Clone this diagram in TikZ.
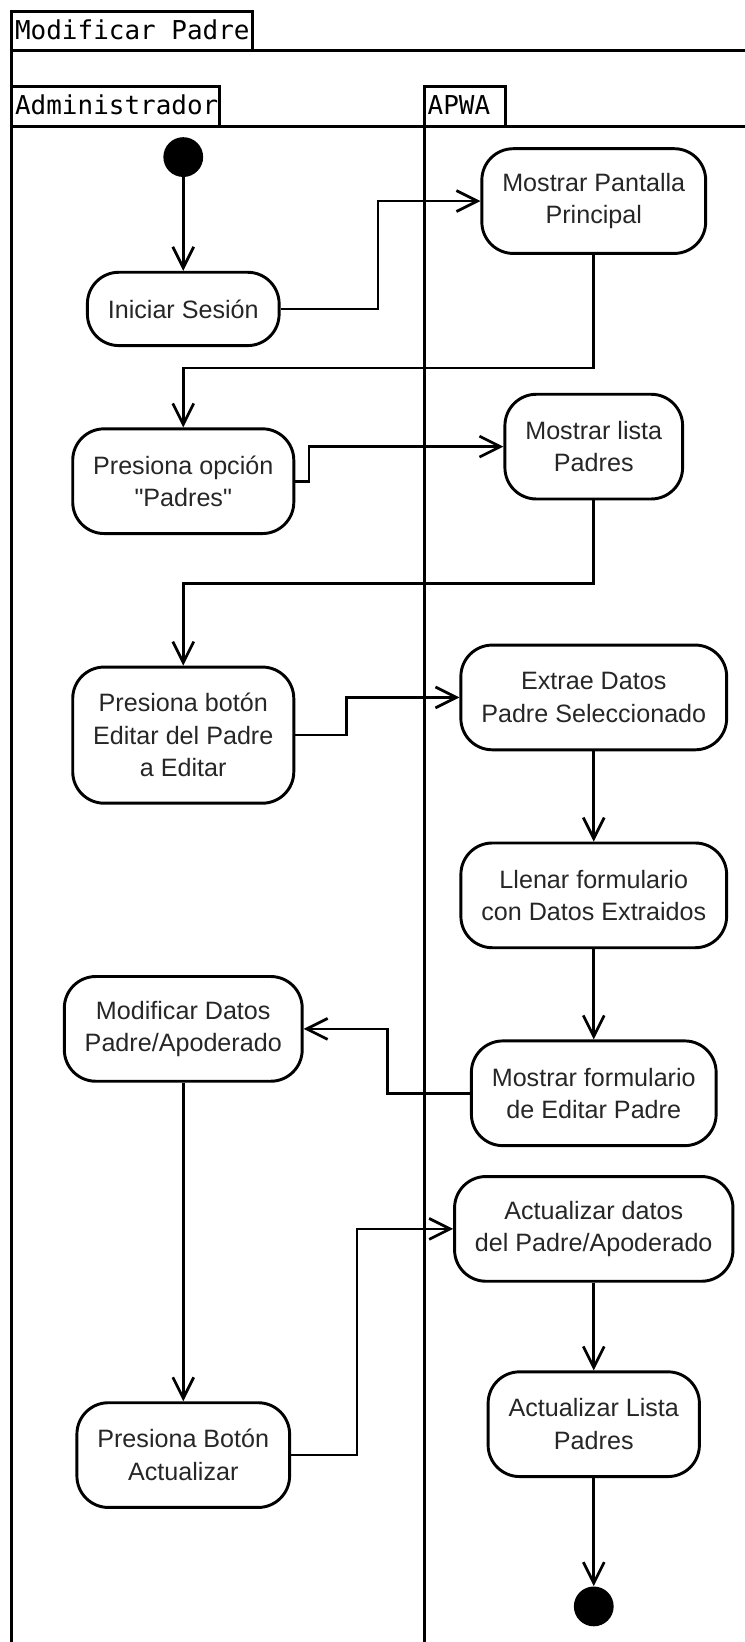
\documentclass[tikz,border=0pt]{standalone}
\usepackage{fontspec}
\setmainfont{Liberation Sans}[Ligatures=TeXOff]
\newfontfamily\lanefont{DejaVu Sans Mono}
\usetikzlibrary{%
  positioning,
  calc,
  arrows.meta,
}

\begin{document}
\begin{tikzpicture}[%
           node distance=80pt,
           on grid,
           activity/.style={
             % The shape:
             rectangle,
             rounded corners=15pt,
             % The size:
             minimum height=50pt,
             inner xsep=9.75pt,
             inner ysep=0pt,
             % The border:
             line width=1.4pt,
             draw=black,
             % The text:
             align=center,
             text=black!85,
             font=\fontsize{12}{15.5}\selectfont,
           },
           endpoint/.style={
             circle,
             minimum size=19pt,
             inner sep=0pt,
             fill=black,
           },
           transition/.style={
             -{Straight Barb[length=10pt,width=10pt]},
             line width=1.3pt,
           },
           pool/.style={
             line width=1.4pt,
           },
           lanetitle/.style={
             anchor=base west,
             inner sep=0pt,
             font=\lanefont\fontsize{12.4}{14}\selectfont,
           }]

         \useasboundingbox (0,0) rectangle (355.5pt,-784pt);
         \coordinate (lane) at (202.5pt,0);

         % Frame and swimlanes
         \draw[pool] (5.5pt,-790pt) -- (5.5pt,-5.5pt) -- (120.5pt,-5.5pt) -- (120.5pt,-24pt);
         \draw[pool] (5.5pt,-24pt) -- (360pt,-24pt);
         \draw[pool] (5.5pt,-41.5pt) -- (105pt,-41.5pt) -- (105pt,-60.5pt);
         \draw[pool] (5.5pt,-60.5pt) -- (360pt,-60.5pt);
         \draw[pool] (202.5pt,-790pt) -- (202.5pt,-41.5pt) -- (241.5pt,-41.5pt) -- (241.5pt,-60.5pt);

         \node[lanetitle] (titulo) at (7pt,-19pt) {Modificar Padre};
         \node[lanetitle] (admin) at (7pt,-54.5pt) {Administrador};
         \node[lanetitle] (apwa) at (204pt,-54.5pt) {APWA};

         % Administrador
         \node[endpoint] (start) at (87.5pt,-75pt) {};
         \node[activity, minimum height=35pt] (admin1) [below=72.5pt of start] {Iniciar Sesión};
         \node[activity] (admin2) [below=82.25pt of admin1] {Presiona opción\\"Padres"};
         \node[activity, minimum height=65pt] (admin3) [below=121.25pt of admin2] {Presiona botón\\Editar del Padre\\a Editar};
         \node[activity] (admin4) [below=140.25pt of admin3] {Modificar Datos\\Padre/Apoderado};
         \node[activity] (admin5) [below=203.5pt of admin4] {Presiona Botón\\Actualizar};

         % APWA
         \node[activity] (apwa1) at (283.5pt,-96pt) {Mostrar Pantalla\\Principal};
         \node[activity] (apwa2) [below=117.25pt of apwa1] {Mostrar lista\\Padres};
         \node[activity] (apwa3) [below=119.75pt of apwa2] {Extrae Datos\\Padre Seleccionado};
         \node[activity] (apwa4) [below=94.5pt of apwa3] {Llenar formulario\\con Datos Extraidos};
         \node[activity] (apwa5) [below=94.5pt of apwa4] {Mostrar formulario\\de Editar Padre};
         \node[activity] (apwa6) [below=64.75pt of apwa5] {Actualizar datos\\del Padre/Apoderado};
         \node[activity] (apwa7) [below=93.25pt of apwa6] {Actualizar Lista\\Padres};
         \node[endpoint] (stop) [below=87pt of apwa7] {};

         \draw[transition] (start) -- (admin1);
         \draw[transition] (admin1.east) -- ($(admin1.east -| lane)+(-22pt,0)$) |- (apwa1.west);
         \draw[transition] (apwa1.south) -- ++(0,-54pt) -| (admin2.north);
         \draw[transition] (admin2.east) -- ($(admin2.east -| lane)+(-55pt,0)$) |- (apwa2.west);
         \draw[transition] (apwa2.south) -- ++(0,-39.5pt) -| (admin3.north);
         \draw[transition] (admin3.east) -- ($(admin3.east -| lane)+(-37pt,0)$) |- (apwa3.west);
         \draw[transition] (apwa3) -- (apwa4);
         \draw[transition] (apwa4) -- (apwa5);
         \draw[transition] (apwa5.west) -- ($(apwa5.west -| lane)+(-17.5pt,0)$) |- (admin4.east);
         \draw[transition] (admin4) -- (admin5);
         \draw[transition] (admin5.east) -- ($(admin5.east -| lane)+(-32pt,0)$) |- (apwa6.west);
         \draw[transition] (apwa6) -- (apwa7);
         \draw[transition] (apwa7) -- (stop);

     \end{tikzpicture}
\end{document}
